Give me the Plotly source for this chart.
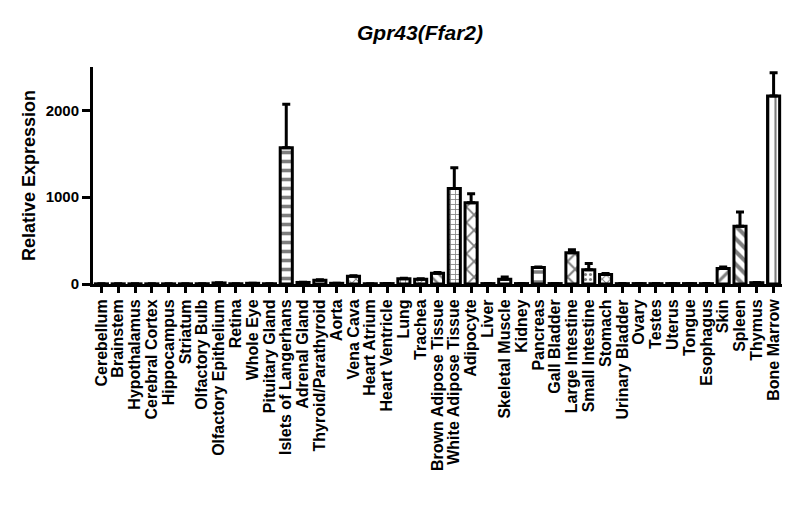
import plotly.graph_objects as go

tissues = [
    "Cerebellum", "Brainstem", "Hypothalamus", "Cerebral Cortex", "Hippocampus",
    "Striatum", "Olfactory Bulb", "Olfactory Epithelium", "Retina", "Whole Eye",
    "Pituitary Gland", "Islets of Langerhans", "Adrenal Gland", "Thyroid/Parathyroid",
    "Aorta", "Vena Cava", "Heart Atrium", "Heart Ventricle", "Lung", "Trachea",
    "Brown Adipose Tissue", "White Adipose Tissue", "Adipocyte", "Liver",
    "Skeletal Muscle", "Kidney", "Pancreas", "Gall Bladder", "Large Intestine",
    "Small Intestine", "Stomach", "Urinary Bladder", "Ovary", "Testes", "Uterus",
    "Tongue", "Esophagus", "Skin", "Spleen", "Thymus", "Bone Marrow",
]
expression = [
    2, 2, 2, 2, 2, 2, 3, 12, 3, 8,
    3, 1570, 18, 42, 8, 88, 3, 5, 60, 55,
    125, 1100, 935, 5, 55, 5, 190, 5, 360, 165,
    110, 4, 5, 4, 5, 5, 4, 180, 665, 15, 2165,
]
sem = [
    1, 1, 1, 1, 1, 1, 1, 3, 1, 2,
    1, 500, 3, 8, 2, 6, 1, 1, 6, 5,
    8, 240, 105, 1, 25, 2, 6, 1, 35, 70,
    10, 1, 1, 1, 1, 1, 1, 15, 165, 3, 270,
]
y_ticks = [0, 1000, 2000]

# fill pattern per bar (style only): shape, tile size, solidity
shapes = [""] * len(tissues)
sizes = [8] * len(tissues)
solid = [0.3] * len(tissues)
for name, shp, sz, so in [
    ("Islets of Langerhans", "-", 9, 0.4), ("Vena Cava", "x", 6, 0.3), ("Lung", "+", 5, 0.3),
    ("Trachea", "x", 6, 0.3), ("Brown Adipose Tissue", "\\", 7, 0.35),
    ("White Adipose Tissue", "+", 5, 0.3), ("Adipocyte", "x", 11, 0.3),
    ("Skeletal Muscle", ".", 5, 0.3), ("Pancreas", "-", 10, 0.35),
    ("Large Intestine", "x", 11, 0.35), ("Small Intestine", ".", 5, 0.3),
    ("Stomach", "x", 6, 0.3), ("Skin", "/", 9, 0.35), ("Spleen", "\\", 9, 0.45),
    ("Bone Marrow", "|", 7, 0.3),
]:
    i = tissues.index(name)
    shapes[i] = shp
    sizes[i] = sz
    solid[i] = so

font = "Liberation Sans, Arial, sans-serif"

fig = go.Figure()
fig.add_trace(go.Bar(
    x=tissues, y=expression, width=0.72,
    marker=dict(
        color="white",
        line=dict(color="black", width=3),
        pattern=dict(shape=shapes, size=sizes, solidity=solid,
                     fgcolor="black", bgcolor="white", fillmode="overlay"),
    ),
    error_y=dict(type="data", array=sem, arrayminus=[0] * len(sem), symmetric=False,
                 color="black", thickness=3, width=4),
))

# page body adds an 8px offset, margins compensate for it
fig.update_layout(
    width=800, height=522,
    margin=dict(l=85, r=26, t=59, b=246),
    paper_bgcolor="white", plot_bgcolor="white",
    showlegend=False,
    title=dict(text="Gpr43(Ffar2)", x=0.515, xanchor="center", y=0.952, yanchor="middle",
               font=dict(family=font, size=21, color="black", weight="bold", style="italic")),
)
fig.update_xaxes(
    range=[-0.5, 40.5], tickmode="array", tickvals=tissues, ticktext=tissues,
    showline=True, linecolor="black", linewidth=3,
    ticks="outside", ticklen=6, tickwidth=3, tickcolor="black", tickangle=-90,
    tickfont=dict(family=font, size=16, color="black", weight="bold"),
    showgrid=False, automargin=False,
)
fig.update_yaxes(
    range=[0, 2500], tickvals=y_ticks, showline=True, linecolor="black", linewidth=3,
    ticks="outside", ticklen=8, tickwidth=3, tickcolor="black",
    tickfont=dict(family=font, size=15, color="black", weight="bold"),
    title=dict(text="Relative Expression", standoff=6,
               font=dict(family=font, size=18, color="black", weight="bold")),
    showgrid=False, zeroline=False, automargin=False,
)

fig.write_html("out.html")
